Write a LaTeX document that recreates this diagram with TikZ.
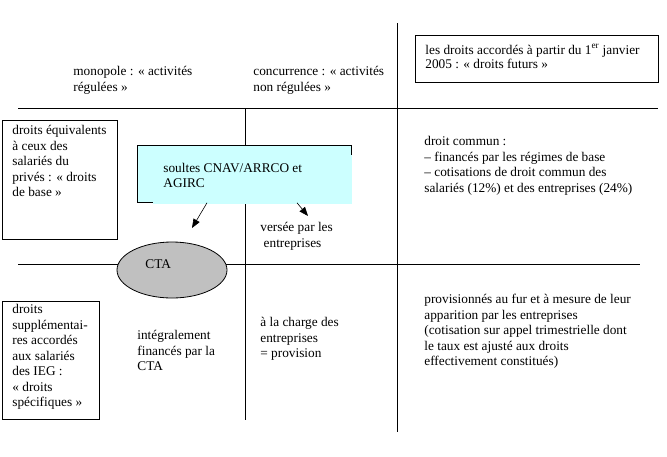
\documentclass[tikz,border=0pt]{standalone}
\usepackage{fontspec}
\setmainfont{Liberation Serif}
\usetikzlibrary{arrows.meta,shapes.geometric,positioning}
\definecolor{soultecyan}{HTML}{CCFFFF}
\definecolor{ctagray}{HTML}{C0C0C0}
\tikzset{
  txt/.style={anchor=north west, yshift=10.85pt, align=left, inner sep=0pt,
    font=\fontsize{13.3}{15.5}\selectfont, execute at begin node=\strut},
  cadre/.style={draw, line width=0.8pt, anchor=north west, inner sep=0pt},
  fleche/.style={-{Triangle[length=9pt,width=7pt]}, line width=0.6pt},
}
\begin{document}
\begin{tikzpicture}[x=1pt,y=-1pt,line width=0.8pt]
\useasboundingbox (0,0) rectangle (667,456);
% grille
\draw (18,108) -- (658,108);
\draw (18,264) -- (640,264);
\draw (245,108) -- (245,420);
\draw (397,23) -- (397,432);
% en-tetes
\node[txt] (monopole) at (73,77) {monopole : «~activités\\régulées~»};
\node[txt] (concurrence) at (253,77) {concurrence : «~activités\\non régulées~»};
\node[cadre, minimum width=243pt, minimum height=47pt] (futursbox) at (415,35) {};
\node[txt, font=\fontsize{13.3}{14.5}\selectfont] (futurs) at (425,55) {les droits accordés à partir du 1\textsuperscript{er} janvier\\2005 : «~droits futurs~»};
% droits de base
\node[cadre, minimum width=115pt, minimum height=119pt] (basebox) at (2,120) {};
\node[txt] (base) at (12,136) {droits équivalents\\à ceux des\\salariés du\\privés : «~droits\\de base~»};
\node[txt] (commun) at (424,147) {droit commun :\\– financés par les régimes de base\\– cotisations de droit commun des\\salariés (12\%) et des entreprises (24\%)};
% soultes
\node[cadre, fill=soultecyan, minimum width=214pt, minimum height=57pt] (soultes) at (137,145) {};
\fill[soultecyan] (153,155) rectangle (352,203.5);
\node[txt, font=\fontsize{13.3}{14.5}\selectfont] (soultestxt) at (163,174) {soultes CNAV/ARRCO et\\AGIRC};
\coordinate (vcta) at (192,228);
\coordinate (vent) at (308,216);
\draw[fleche] (soultes.south west) ++(70,0) -- (vcta);
\draw[fleche] (soultes.south west) ++(160,0) -- (vent);
\node[txt] (versee) at (260,233) {versée par les\\\ entreprises};
% CTA
\node[draw, ellipse, fill=ctagray, minimum width=110pt, minimum height=56pt] (cta) at (172,270) {};
\node[txt] (ctatxt) at (145,268) {CTA};
% droits specifiques
\node[cadre, minimum width=97pt, minimum height=118pt] (specbox) at (2,301) {};
\node[txt] (spec) at (12,315) {droits\\supplémentai-\\res accordés\\aux salariés\\des IEG :\\«~droits\\spécifiques~»};
\node[txt] (integral) at (137,341) {intégralement\\financés par la\\CTA};
\node[txt] (charge) at (260,328) {à la charge des\\entreprises\\= provision};
\node[txt] (provision) at (424,305) {provisionnés au fur et à mesure de leur\\apparition par les entreprises\\(cotisation sur appel trimestrielle dont\\le taux est ajusté aux droits\\effectivement constitués)};
\end{tikzpicture}
\end{document}
